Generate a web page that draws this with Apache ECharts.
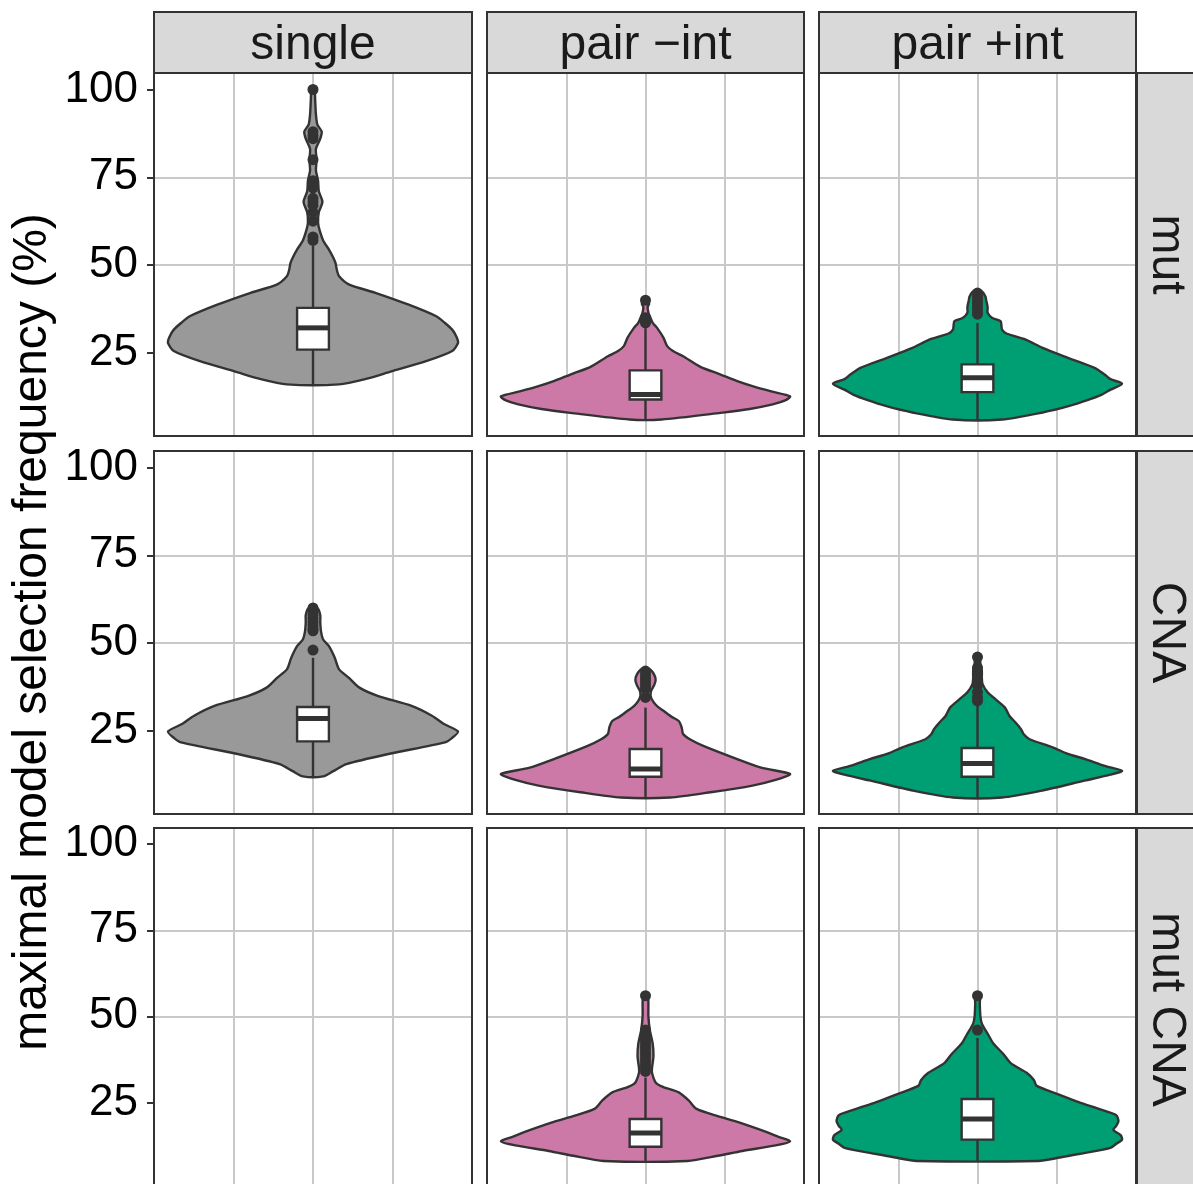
<!DOCTYPE html>
<html><head><meta charset="utf-8">
<script src="https://cdn.jsdelivr.net/npm/echarts@6/dist/echarts.min.js"></script>
<style>html,body{margin:0;padding:0;background:#fff}#c{width:1193px;height:1184px}</style>
</head><body><div id="c"></div>
<script>
// ---- facets / ticks ----
const cols = ['single', 'pair \u2212int', 'pair +int'];
const rows = ['mut', 'CNA', 'mut CNA'];
const yTicks = [25, 50, 75, 100];
const yTitle = 'maximal model selection frequency (%)';

// ---- violin density profiles: [value, relative density] (bottom -> top) ----
const violin_mut_single = [[16,0.18],[17.5,0.36],[19.7,0.54],[22.6,0.78],[25.5,0.96],[27.8,1.0],[29.5,0.99],[31.6,0.96],[33.5,0.91],[35.4,0.85],[38.7,0.66],[42.1,0.43],[44.4,0.25],[46.8,0.18],[48.5,0.165],[50.6,0.155],[52.5,0.135],[54.4,0.11],[57,0.07],[60,0.045],[62,0.035],[65,0.04],[68,0.065],[71,0.04],[74,0.035],[77,0.02],[80,0.025],[83,0.02],[86,0.05],[88,0.06],[90,0.03],[93,0.02],[97,0.015],[100,0.01]];
const violin_mut_pairMinus = [[6,0.11],[7.9,0.52],[9,0.72],[10.3,0.88],[11.5,0.97],[12.6,1.0],[14,0.87],[15.5,0.74],[17,0.63],[18.8,0.52],[21,0.38],[24,0.26],[25.5,0.19],[26.9,0.15],[29.3,0.124],[32.1,0.08],[33.5,0.05],[35.4,0.03],[36.5,0.02],[38,0.015],[39,0.025],[40,0.015]];
const violin_mut_pairPlus = [[6,0.17],[8,0.45],[9.8,0.63],[11.5,0.76],[13.1,0.86],[14.5,0.92],[16.2,1.0],[17.5,0.92],[18.8,0.88],[20.7,0.81],[23.5,0.63],[26.4,0.45],[28.8,0.33],[30.5,0.2],[31.6,0.17],[33,0.165],[34,0.16],[35,0.1],[36.4,0.07],[38,0.07],[40,0.06],[41,0.055],[42.5,0.03]];
const violin_cna_single = [[12,0.07],[13.5,0.14],[15.5,0.23],[18.4,0.52],[21.7,0.91],[23,0.96],[24.8,1.0],[27,0.9],[29.3,0.82],[32.1,0.68],[34.9,0.45],[37.3,0.32],[40,0.25],[42.5,0.18],[45.8,0.15],[49.1,0.11],[51,0.07],[53.4,0.055],[56,0.05],[58,0.05],[60,0.03]];
const violin_cna_pairMinus = [[6,0.17],[7.5,0.45],[9.4,0.74],[11,0.9],[12.7,1.0],[14.5,0.8],[17,0.63],[20.7,0.4],[22.5,0.31],[24.1,0.26],[26,0.25],[27.8,0.23],[29,0.18],[30.7,0.124],[32,0.08],[33.5,0.05],[35,0.035],[36.5,0.04],[38,0.06],[39.5,0.07],[41,0.06],[42.5,0.03]];
const violin_cna_pairPlus = [[6,0.17],[8,0.45],[10.8,0.74],[12.5,0.92],[13.6,1.0],[15,0.88],[17,0.74],[18.5,0.62],[20.3,0.52],[22.6,0.36],[24,0.32],[25.5,0.3],[27.5,0.26],[29.3,0.22],[31.6,0.19],[34,0.124],[36,0.07],[38.3,0.035],[40,0.03],[42,0.03],[44,0.02],[46,0.015]];
const violin_mutcna_pairMinus = [[8,0.29],[9.5,0.5],[10.9,0.67],[12.5,0.9],[13.7,1.0],[15,0.92],[16.5,0.83],[19.4,0.63],[21,0.5],[23.2,0.35],[25.5,0.3],[27.9,0.23],[29.5,0.12],[30.8,0.07],[33.6,0.045],[35,0.045],[38.4,0.055],[42,0.05],[46,0.03],[50,0.02],[54,0.02],[56,0.015]];
const violin_mutcna_pairPlus = [[8,0.42],[9,0.57],[10,0.7],[11.8,0.92],[13,0.96],[14.2,1.0],[15.5,0.99],[17,0.94],[18.2,0.96],[19.5,0.975],[21.3,0.96],[23,0.85],[25.1,0.7],[27.5,0.55],[29.8,0.41],[31.5,0.39],[33.6,0.34],[36.4,0.23],[39,0.18],[42.1,0.11],[45,0.07],[47.8,0.031],[50,0.02],[53.5,0.016],[56,0.015]];

// ---- box stats: [lower whisker, q1, median, q3, upper whisker] ----
const box_mut_single = [16, 25.9, 32.1, 37.8, 55.5];
const box_mut_pairMinus = [6, 11.7, 13.1, 20.0, 32];
const box_mut_pairPlus = [6, 13.8, 17.9, 21.7, 33.5];
const box_cna_single = [12, 22.0, 28.5, 31.8, 45.8];
const box_cna_pairMinus = [6, 11.9, 14.1, 19.8, 31.6];
const box_cna_pairPlus = [6, 11.9, 15.7, 20.1, 32.3];
const box_mutcna_pairMinus = [8, 12.1, 16.1, 20.2, 32.2];
const box_mutcna_pairPlus = [8, 14.2, 20.2, 26.0, 43.7];

// ---- outliers ----
const out_mut_single = [57, 58, 62.5, 65, 67, 68, 69, 72, 74, 80, 86, 87, 88, 100];
const out_mut_pairMinus = [33.5, 34, 35, 40];
const out_mut_pairPlus = [36, 37, 38, 39, 40, 41, 42];
const out_cna_single = [48, 53.5, 54, 55, 56, 57, 58, 59, 60];
const out_cna_pairMinus = [34.5, 37, 38, 39, 40, 41, 42];
const out_cna_pairPlus = [33.5, 34.5, 36, 38, 39, 40, 41, 42, 43, 46];
const out_mutcna_pairMinus = [34, 35, 36, 37, 38, 39, 40, 41, 42, 43, 44, 46, 56];
const out_mutcna_pairPlus = [46, 56];

const colColors = ['#999999', '#CC79A7', '#009E73'];

// panels: [row, col, violin, box, outliers]
const panels = [
  [0, 0, violin_mut_single, box_mut_single, out_mut_single],
  [0, 1, violin_mut_pairMinus, box_mut_pairMinus, out_mut_pairMinus],
  [0, 2, violin_mut_pairPlus, box_mut_pairPlus, out_mut_pairPlus],
  [1, 0, violin_cna_single, box_cna_single, out_cna_single],
  [1, 1, violin_cna_pairMinus, box_cna_pairMinus, out_cna_pairMinus],
  [1, 2, violin_cna_pairPlus, box_cna_pairPlus, out_cna_pairPlus],
  [2, 1, violin_mutcna_pairMinus, box_mutcna_pairMinus, out_mutcna_pairMinus],
  [2, 2, violin_mutcna_pairPlus, box_mutcna_pairPlus, out_mutcna_pairPlus]
];

// ---- layout ----
const FONT = 'Liberation Sans, Arial, Helvetica, sans-serif';
const colLeft = [154, 487, 819], colW = [318, 317, 317];
const rowTop = [73, 451, 828], rowH = 363;
const stripTop = 12, stripH = 61;
const rStripX = 1137, rStripW = 64;
const CENTER = 2, HALF = 1.824, BOXHALF = 0.2;
const DARK = '#333333', GRIDC = '#C9C9C9';

const grids = [], xAxes = [], yAxes = [], series = [], graphics = [];
for (let r = 0; r < 3; r++) {
  for (let c = 0; c < 3; c++) {
    const gi = r * 3 + c;
    grids.push({left: colLeft[c], top: rowTop[r], width: colW[c], height: rowH, show: false, containLabel: false});
    xAxes.push({gridIndex: gi, type: 'value', min: 0, max: 4, interval: 1,
      axisLabel: {show: false}, axisTick: {show: false}, axisLine: {show: false},
      splitLine: {show: true, showMinLine: false, showMaxLine: false, lineStyle: {color: GRIDC, width: 2}}});
    yAxes.push({gridIndex: gi, type: 'value', min: 1.3, max: 104.7,
      axisLine: {show: false},
      axisTick: {show: c === 0, customValues: yTicks, length: 7, lineStyle: {color: DARK, width: 2}},
      axisLabel: {show: c === 0, customValues: yTicks, fontSize: 44, color: '#000', margin: 16, fontFamily: FONT},
      splitLine: {show: true, showMinLine: false, showMaxLine: false, lineStyle: {color: GRIDC, width: 2}}});
    // panel frame
    graphics.push({type: 'rect', z: 100, shape: {x: colLeft[c], y: rowTop[r], width: colW[c], height: rowH},
      style: {fill: 'none', stroke: DARK, lineWidth: 2}});
  }
}

panels.forEach(([r, c, prof, box, outs]) => {
  const gi = r * 3 + c;
  const color = colColors[c];
  series.push({
    type: 'custom', xAxisIndex: gi, yAxisIndex: gi, clip: true, z: 2,
    data: [[CENTER, box[2]]],
    renderItem: (params, api) => {
      const left = prof.map(([v, d]) => api.coord([CENTER - d * HALF, v]));
      const right = prof.map(([v, d]) => api.coord([CENTER + d * HALF, v])).reverse();
      return {type: 'polygon', shape: {points: left.concat(right), smooth: 0.25},
        style: {fill: color, stroke: DARK, lineWidth: 2.4}};
    }
  });
  series.push({
    type: 'custom', xAxisIndex: gi, yAxisIndex: gi, clip: true, z: 3,
    data: [[CENTER, box[2]]],
    renderItem: (params, api) => {
      const [lo, q1, med, q3, hi] = box;
      const cx = api.coord([CENTER, med])[0];
      const xl = api.coord([CENTER - BOXHALF, med])[0];
      const xr = api.coord([CENTER + BOXHALF, med])[0];
      const yLo = api.coord([CENTER, lo])[1], yQ1 = api.coord([CENTER, q1])[1];
      const yMed = api.coord([CENTER, med])[1], yQ3 = api.coord([CENTER, q3])[1];
      const yHi = api.coord([CENTER, hi])[1];
      return {type: 'group', children: [
        {type: 'line', shape: {x1: cx, y1: yHi, x2: cx, y2: yQ3}, style: {stroke: DARK, lineWidth: 2.4}},
        {type: 'line', shape: {x1: cx, y1: yQ1, x2: cx, y2: yLo}, style: {stroke: DARK, lineWidth: 2.4}},
        {type: 'rect', shape: {x: xl, y: yQ3, width: xr - xl, height: yQ1 - yQ3}, style: {fill: '#fff', stroke: DARK, lineWidth: 2.4}},
        {type: 'line', shape: {x1: xl, y1: yMed, x2: xr, y2: yMed}, style: {stroke: DARK, lineWidth: 5}}
      ]};
    }
  });
  series.push({
    type: 'scatter', xAxisIndex: gi, yAxisIndex: gi, z: 4, symbolSize: 11,
    itemStyle: {color: DARK, opacity: 1}, emphasis: {disabled: true},
    data: outs.map(v => [CENTER, v])
  });
});

// strips
cols.forEach((t, c) => {
  graphics.push({type: 'rect', z: 90, shape: {x: colLeft[c], y: stripTop, width: colW[c], height: stripH},
    style: {fill: '#D9D9D9', stroke: DARK, lineWidth: 2}});
  graphics.push({type: 'text', z: 91, x: colLeft[c] + colW[c] / 2, y: stripTop + stripH / 2 + 3,
    style: {text: t, fontSize: 48, fontFamily: FONT, fill: '#1A1A1A', align: 'center', verticalAlign: 'middle'}});
});
rows.forEach((t, r) => {
  graphics.push({type: 'rect', z: 90, shape: {x: rStripX, y: rowTop[r], width: rStripW, height: rowH},
    style: {fill: '#D9D9D9', stroke: DARK, lineWidth: 2}});
  graphics.push({type: 'text', z: 91, x: 1166, y: rowTop[r] + rowH / 2, rotation: -Math.PI / 2,
    style: {text: t, fontSize: 48, fontFamily: FONT, fill: '#1A1A1A', align: 'center', verticalAlign: 'middle'}});
});
graphics.push({type: 'text', z: 91, x: 33, y: 632, rotation: Math.PI / 2,
  style: {text: yTitle, fontSize: 48, fontFamily: FONT, fill: '#000', align: 'center', verticalAlign: 'middle'}});

const chart = echarts.init(document.getElementById('c'), null, {renderer: 'canvas'});
chart.setOption({
  animation: false,
  backgroundColor: '#fff',
  grid: grids, xAxis: xAxes, yAxis: yAxes, series: series,
  graphic: {elements: graphics}
});
</script></body></html>
